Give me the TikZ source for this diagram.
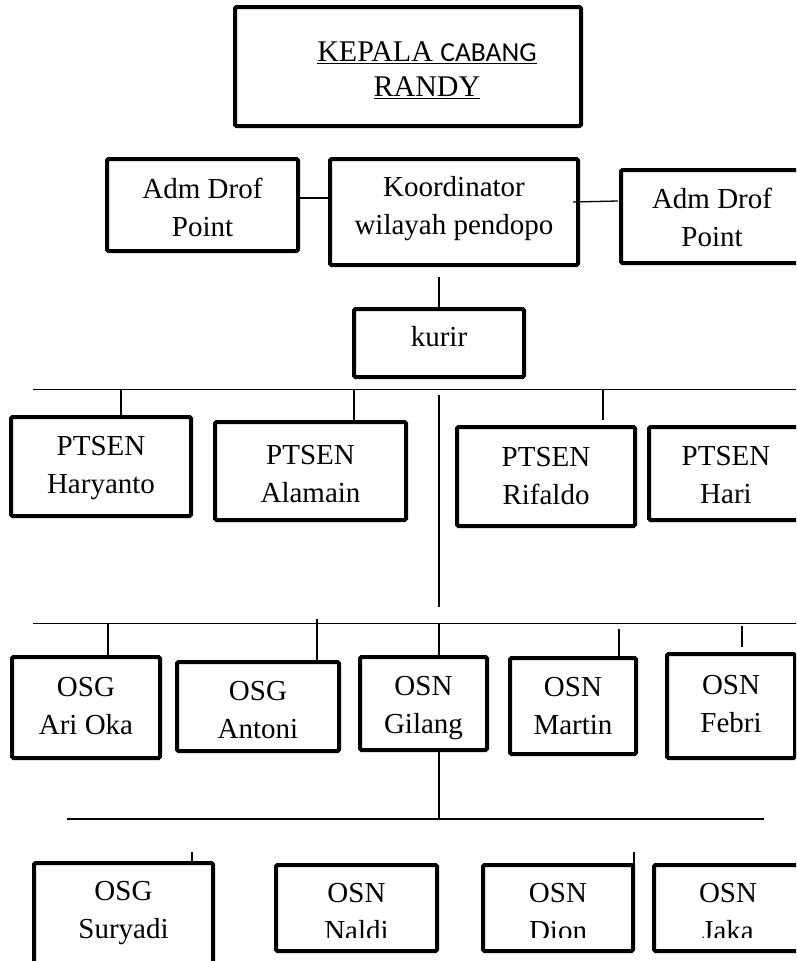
\documentclass[tikz,border=0pt]{standalone}
\usepackage{fontspec}
\setmainfont{Liberation Serif}
\newfontfamily\calibfont{Carlito}
\usetikzlibrary{calc}
\tikzset{
  obox/.style={draw=black, line width=4pt, rectangle, rounded corners=1.5pt, inner sep=0pt, outer sep=0pt, fill=white},
  txt/.style={align=center, font=\fontsize{29}{38}\selectfont, inner sep=0pt, text=black},
  conn/.style={draw=black, line width=1.3pt},
}
% name, x1, y1, x2, y2, text, text shift (up)
\newcommand\bx[7]{\node[obox, minimum width={#4-#2-4}, minimum height={#5-#3-4},
  label={[txt, yshift=#7pt]center:{#6}}] (#1) at ({(#2+#4)/2},{(#3+#5)/2}) {};}
\begin{document}
\begin{tikzpicture}[x=1pt,y=-1pt]
\useasboundingbox (0,0) rectangle (796,961);
\clip (0,0) rectangle (796,961);
\fill[white] (0,0) rectangle (796,961);

% top
\node[obox, minimum width=346, minimum height=119] (top) at (408,66.5) {};
\node[txt, font=\fontsize{30}{35}\selectfont] (toptext) at (427,70)
  {\underline{KEPALA {\calibfont\fontsize{27.5}{35}\selectfont CABANG}}\\\underline{RANDY}};

% row 2
\bx{admL}{105}{157}{300}{253}{Adm Drof\\Point}{-2}
\bx{koord}{328}{157}{580}{267}{Koordinator\\wilayah pendopo}{3}
\bx{admR}{619}{168}{805}{265}{Adm Drof\\Point}{-1}
\bx{kurir}{352}{307}{526}{379}{kurir}{6}

% PTSEN row
\bx{haryanto}{9}{415}{193}{518}{PTSEN\\Haryanto}{-2}
\bx{alamain}{213}{420}{408}{522}{PTSEN\\Alamain}{-3}
\bx{rifaldo}{455}{425}{637}{528}{PTSEN\\Rifaldo}{0}
\bx{hari}{647}{425}{805}{522}{PTSEN\\Hari}{-2}

% OSG / OSN row
\bx{arioka}{10}{655}{162}{760}{OSG\\Ari Oka}{1}
\bx{antoni}{175}{660}{341}{753}{OSG\\Antoni}{-4}
\bx{gilang}{358}{655}{489}{752}{OSN\\Gilang}{-5}
\bx{martin}{508}{656}{638}{756}{OSN\\Martin}{0}
\bx{febri}{665}{652}{797}{760}{OSN\\Febri}{2}

% bottom row
\bx{suryadi}{32}{861}{215}{985}{OSG\\Suryadi}{10}
\bx{naldi}{274}{863}{439}{953}{}{0}
\bx{dion}{481}{863}{635}{953}{}{0}
\bx{jaka}{652}{863}{810}{953}{}{0}
\begin{scope}
\clip (0,0) rectangle (796,937);
\node[txt] (naldiT) at (naldi.center) [yshift=-4pt] {OSN\\Naldi};
\node[txt] (dionT) at (dion.center) [yshift=-4pt] {OSN\\Dion};
\node[txt] (jakaT) at (728,912) {OSN\\Jaka};
\end{scope}

% connectors row 2
\path ($(admL.east)+(0,-7)$) coordinate (c1);
\draw[conn] (c1) -- (c1 -| koord.west);
\draw[conn] ($(koord.east)+(-5,-10)$) -- ($(admR.west)+(-3,-15.5)$);
\draw[conn] ($(kurir.north)+(0,-32)$) -- (kurir.north);

% bus 1
\coordinate (b1L) at (33,389.5);
\coordinate (b1R) at (800,389.5);
\draw[conn] (b1L) -- (b1R);
\coordinate (t1) at (121,389.5);
\coordinate (t2) at (354,389.5);
\coordinate (t3) at (603,389.5);
\coordinate (t3e) at (603,420);
\draw[conn] (t1) -- (t1 |- haryanto.north);
\draw[conn] (t2) -- (t2 |- alamain.north);
\draw[conn] (t3) -- (t3e);
\coordinate (v1a) at (439,395);
\coordinate (v1b) at (439,607);
\draw[conn] (v1a) -- (v1b);

% bus 2
\coordinate (b2L) at (33,623.5);
\coordinate (b2R) at (800,623.5);
\draw[conn] (b2L) -- (b2R);
\coordinate (u1) at (108,623.5);
\coordinate (u2) at (317,619);
\coordinate (u3) at (439,623.5);
\coordinate (u4) at (619,629);
\coordinate (u5) at (742,626);
\coordinate (u5e) at (742,647);
\draw[conn] (u1) -- (u1 |- arioka.north);
\draw[conn] (u2) -- (u2 |- antoni.north);
\draw[conn] (u3) -- (u3 |- gilang.north);
\draw[conn] (u4) -- (u4 |- martin.north);
\draw[conn] (u5) -- (u5e);

% bus 3
\coordinate (v2) at (439,819);
\draw[conn] (v2 |- gilang.south) -- (v2);
\coordinate (b3L) at (67,819);
\coordinate (b3R) at (764,819);
\draw[conn] (b3L) -- (b3R);
\coordinate (w1) at (192,852);
\coordinate (w2) at (634,852);
\draw[conn] (w1) -- (w1 |- suryadi.north);
\draw[conn] (w2) -- (w2 |- dion.north);
\end{tikzpicture}
\end{document}
